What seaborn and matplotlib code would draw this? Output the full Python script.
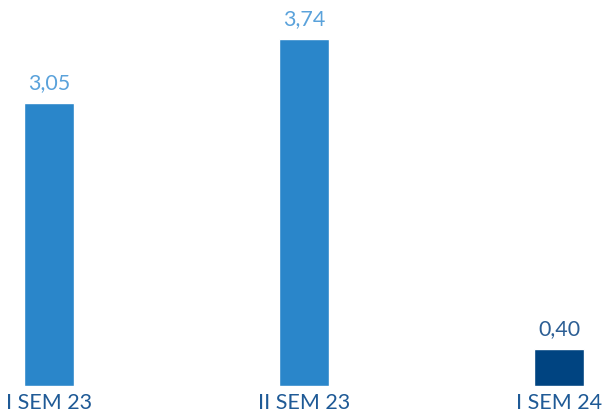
import matplotlib
matplotlib.use("Agg")
import matplotlib.pyplot as plt
import seaborn as sns
import pandas as pd

categories = ["I SEM 23", "II SEM 23", "I SEM 24"]
values = [3.05, 3.74, 0.40]
labels = ["3,05", "3,74", "0,40"]
bar_colors = ["#2A86CA", "#2A86CA", "#004481"]
label_colors = ["#5AA2DB", "#5AA2DB", "#2C5E94"]

sns.set_theme(style="white")
plt.rcParams['font.family'] = ['Lato', 'DejaVu Sans']

df = pd.DataFrame({"cat": categories, "val": values})

fig = plt.figure(figsize=(6.06, 4.16), dpi=100)
ax = fig.add_axes([0, 30/416, 1, 386/416])
sns.barplot(data=df, x="cat", y="val", hue="cat", palette=bar_colors,
            width=50/255, legend=False, ax=ax, saturation=1)

ax.set_xlim(-49/255, (606-49)/255)
ax.set_ylim(0, 386 * 3.74 / 347)

for i, (v, lab) in enumerate(zip(values, labels)):
    ax.annotate(lab, (i, v), xytext=(0, 7), textcoords="offset points",
                ha="center", va="bottom", fontsize=15.5, color=label_colors[i],
                fontweight="normal")

ax.set_xlabel("")
ax.set_ylabel("")
ax.set_yticks([])
ax.tick_params(axis="x", length=0, pad=5, labelsize=15.5, labelcolor="#1F5A96")
for s in ax.spines.values():
    s.set_visible(False)

fig.savefig("out.png", dpi=100)
